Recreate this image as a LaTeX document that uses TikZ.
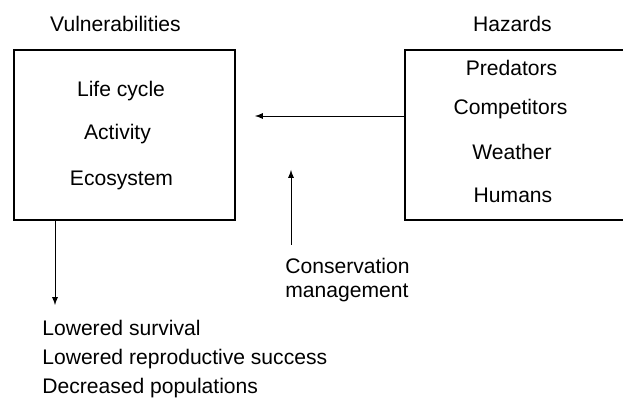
\documentclass[tikz,border=0pt]{standalone}
\usepackage{fontspec}
\setmainfont{Liberation Sans}
\usetikzlibrary{shapes,arrows,positioning,calc}

\begin{document}
\begin{tikzpicture}
  \tikzstyle{frame}=[rectangle, draw, line width=0.6pt, minimum height=3.4cm, inner sep=0pt]
  \tikzstyle{word}=[inner sep=0pt, font=\fontsize{12}{13.6}\selectfont]
  \tikzstyle{link}=[-latex, line width=0.55pt]

  \clip (0,0) rectangle (12.46,7.96);

  % Vulnerabilities
  \node[frame, minimum width=4.42cm] (vul) at (2.49,5.26) {};
  \node[word, anchor=base] (vultitle) at (2.31,7.32) {Vulnerabilities};
  \node[word, anchor=base] (life) at (2.42,6.02) {Life cycle};
  \node[word, anchor=base] (act) at (2.35,5.18) {Activity};
  \node[word, anchor=base] (eco) at (2.43,4.24) {Ecosystem};

  % Hazards (box runs off the right edge)
  \node[frame, minimum width=4.9cm] (haz) at (10.55,5.26) {};
  \node[word, anchor=base] (haztitle) at (10.25,7.32) {Hazards};
  \node[word, anchor=base] (pred) at (10.23,6.44) {Predators};
  \node[word, anchor=base] (comp) at (10.21,5.66) {Competitors};
  \node[word, anchor=base] (weat) at (10.24,4.76) {Weather};
  \node[word, anchor=base] (hum) at (10.26,3.92) {Humans};

  % Conservation management
  \node[word, align=left, anchor=north west] (cons) at (5.70,2.80) {Conservation\\management};

  % Outcomes
  \node[word, align=left, anchor=north west, font=\fontsize{12}{16.7}\selectfont] (out) at (0.84,1.57)
    {Lowered survival\\Lowered reproductive success\\Decreased populations};

  % Connections
  \coordinate (hztip) at (5.10,5.64);
  \coordinate (cmtip) at (5.82,4.56);
  \coordinate (cmfoot) at (5.82,3.06);
  \coordinate (outtip) at (1.10,1.86);
  \draw[link] (haz.west |- hztip) -- (hztip);
  \draw[link] (cmfoot) -- (cmtip);
  \draw[link] (vul.south -| outtip) -- (outtip);
\end{tikzpicture}
\end{document}
